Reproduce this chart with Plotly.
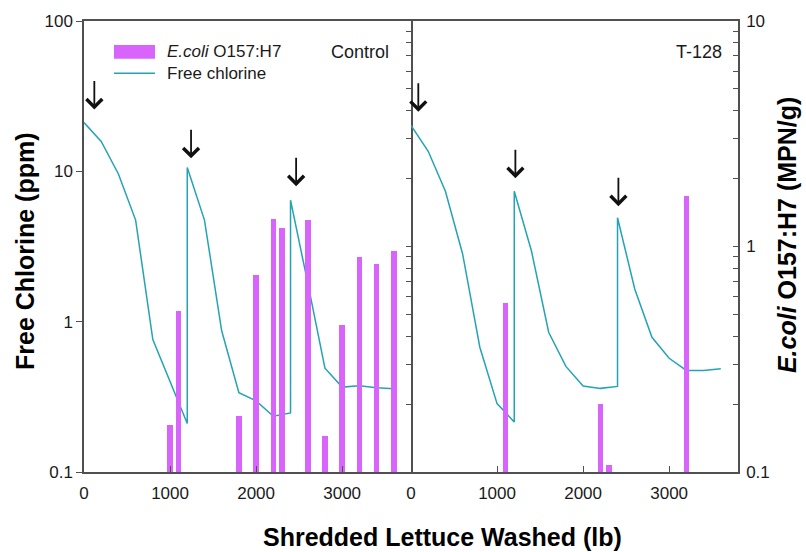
import math
import plotly.graph_objects as go

# ---------------- data ----------------
lb_steps = [0, 200, 400, 600, 800, 1000, 1200, 1200, 1400, 1600, 1800,
            2000, 2200, 2400, 2400, 2600, 2800, 3000, 3200, 3400, 3600]
chlorine_control = [21.1, 15.8, 9.6, 4.74, 0.76, 0.40, 0.21, 10.6, 4.74, 0.87, 0.337,
                    0.297, 0.235, 0.247, 6.43, 1.81, 0.49, 0.367, 0.375, 0.364, 0.358]
chlorine_t128 = [20.2, 13.6, 7.37, 2.82, 0.676, 0.285, 0.215, 7.37, 2.95, 0.85, 0.504,
                 0.373, 0.36, 0.371, 4.91, 1.65, 0.787, 0.571, 0.474, 0.474, 0.487]

ecoli_control_x = [1000, 1100, 1800, 2000, 2200, 2300, 2600, 2800, 3000, 3200, 3400, 3600]
ecoli_control = [0.161, 0.52, 0.177, 0.75, 1.33, 1.21, 1.31, 0.144, 0.45, 0.90, 0.84, 0.96]
ecoli_t128_x = [1100, 2200, 2300, 3200]
ecoli_t128 = [0.56, 0.201, 0.107, 1.67]

# chlorine dosing events (arrows): lb position and ppm level of the arrow tip
dose_control_x = [120, 1244, 2465]
dose_control_tip = [25.8, 12.2, 7.96]
dose_t128_x = [85, 1213, 2410]
dose_t128_tip = [24.9, 9.0, 5.86]

x_ticks = [0, 1000, 2000, 3000]
x_ticklabels = ["0", "1000", "2000", "3000"]
cl_ticks = [0.1, 1, 10, 100]
cl_ticklabels = ["0.1", "1", "10", "100"]
ec_ticks = [0.1, 0.2, 0.3, 0.4, 0.5, 0.6, 0.7, 0.8, 0.9,
            1, 2, 3, 4, 5, 6, 7, 8, 9, 10]
ec_ticklabels = ["0.1", "", "", "", "", "", "", "", "",
                 "1", "", "", "", "", "", "", "", "", "10"]

panel_labels = ["Control", "T-128"]
legend_labels = ["<i>E.coli</i> O157:H7", "Free chlorine"]

# ---------------- style ----------------
BAR_COLOR = "#D864FC"
LINE_COLOR = "#25A3B6"
AXIS_COLOR = "#505050"
TEXT_COLOR = "#1a1a1a"
FONT = "Liberation Sans, Arial, sans-serif"

L, R, T, B = 84, 738, 19, 472
W, H = R - L, B - T


def px_x(px):
    return (px - L) / W


def px_y(py):
    return (B - py) / H


fig = go.Figure()

# left panel
fig.add_trace(go.Bar(x=ecoli_control_x, y=ecoli_control, width=65,
                     marker=dict(color=BAR_COLOR, line=dict(width=0)),
                     xaxis="x", yaxis="y3", showlegend=False))
fig.add_trace(go.Scatter(x=lb_steps, y=chlorine_control, mode="lines",
                         line=dict(color=LINE_COLOR, width=1.5),
                         xaxis="x", yaxis="y", showlegend=False))
# right panel
fig.add_trace(go.Bar(x=ecoli_t128_x, y=ecoli_t128, width=65,
                     marker=dict(color=BAR_COLOR, line=dict(width=0)),
                     xaxis="x2", yaxis="y5", showlegend=False))
fig.add_trace(go.Scatter(x=lb_steps, y=chlorine_t128, mode="lines",
                         line=dict(color=LINE_COLOR, width=1.5),
                         xaxis="x2", yaxis="y4", showlegend=False))

tickfont = dict(family=FONT, size=17, color=TEXT_COLOR)

xcommon = dict(range=[0, 3800], tickvals=x_ticks, ticktext=x_ticklabels,
               ticks="inside", ticklen=6, tickwidth=1.2, tickcolor=AXIS_COLOR,
               ticklabelstandoff=5,
               showline=True, linecolor=AXIS_COLOR, linewidth=1.5, mirror=True,
               showgrid=False, zeroline=False, tickfont=tickfont)

fig.update_layout(
    width=806, height=552,
    margin=dict(l=L, r=806 - R, t=T, b=552 - B, pad=0),
    paper_bgcolor="white", plot_bgcolor="white",
    bargap=0, barmode="overlay",
    font=dict(family=FONT, color=TEXT_COLOR),
    xaxis=dict(domain=[0, 0.5], anchor="y", **xcommon),
    xaxis2=dict(domain=[0.5, 1], anchor="y4", **xcommon),
    yaxis=dict(type="log", range=[-1, 2], anchor="x",
               tickvals=cl_ticks, ticktext=cl_ticklabels,
               ticks="outside", ticklen=6, tickwidth=1.2, tickcolor=AXIS_COLOR,
               showline=True, linecolor=AXIS_COLOR, linewidth=1.5,
               showgrid=False, zeroline=False, tickfont=tickfont),
    yaxis3=dict(type="log", range=[-1, 1], anchor="x", overlaying="y", side="right",
                tickvals=ec_ticks, showticklabels=False,
                ticks="inside", ticklen=5, tickwidth=1.2, tickcolor=AXIS_COLOR,
                showline=True, linecolor=AXIS_COLOR, linewidth=1.5,
                showgrid=False, zeroline=False),
    yaxis4=dict(type="log", range=[-1, 2], anchor="x2",
                ticks="", showticklabels=False, showline=False,
                showgrid=False, zeroline=False),
    yaxis5=dict(type="log", range=[-1, 1], anchor="x2", overlaying="y4", side="right",
                tickvals=ec_ticks, ticktext=ec_ticklabels,
                ticks="inside", ticklen=5, tickwidth=1.2, tickcolor=AXIS_COLOR,
                ticklabelstandoff=3,
                showline=True, linecolor=AXIS_COLOR, linewidth=1.5,
                showgrid=False, zeroline=False, tickfont=tickfont),
)

annotations = []
# dosing arrows
for xs, tips, xr, yr in [(dose_control_x, dose_control_tip, "x", "y"),
                         (dose_t128_x, dose_t128_tip, "x2", "y4")]:
    for xv, tv in zip(xs, tips):
        annotations.append(dict(x=xv, y=math.log10(tv), xref=xr, yref=yr,
                                showarrow=True, ax=0, ay=-30,
                                arrowhead=4, arrowsize=1.7, arrowwidth=1.8,
                                arrowcolor="#111111", text=""))

titlefont = dict(family=FONT, size=25, color="#000000")
annotations += [
    dict(text="<b>Shredded Lettuce Washed (lb)</b>", x=px_x(442), y=px_y(537),
         xref="paper", yref="paper", showarrow=False, font=titlefont,
         xanchor="center", yanchor="middle"),
    dict(text="<b>Free Chlorine (ppm)</b>", x=px_x(25), y=px_y(250),
         xref="paper", yref="paper", showarrow=False, font=titlefont,
         textangle=-90, xanchor="center", yanchor="middle"),
    dict(text="<b><i>E.coli</i> O157:H7 (MPN/g)</b>", x=px_x(787), y=px_y(234),
         xref="paper", yref="paper", showarrow=False, font=titlefont,
         textangle=-90, xanchor="center", yanchor="middle"),
    dict(text=panel_labels[0], x=px_x(391), y=px_y(50), xref="paper", yref="paper",
         showarrow=False, font=dict(family=FONT, size=18, color=TEXT_COLOR),
         xanchor="right", yanchor="middle"),
    dict(text=panel_labels[1], x=px_x(724), y=px_y(50), xref="paper", yref="paper",
         showarrow=False, font=dict(family=FONT, size=18, color=TEXT_COLOR),
         xanchor="right", yanchor="middle"),
    dict(text=legend_labels[0], x=px_x(165), y=px_y(50), xref="paper", yref="paper",
         showarrow=False, font=dict(family=FONT, size=17, color=TEXT_COLOR),
         xanchor="left", yanchor="middle"),
    dict(text=legend_labels[1], x=px_x(165), y=px_y(72), xref="paper", yref="paper",
         showarrow=False, font=dict(family=FONT, size=17, color=TEXT_COLOR),
         xanchor="left", yanchor="middle"),
]
fig.update_layout(annotations=annotations)

fig.update_layout(shapes=[
    dict(type="rect", xref="paper", yref="paper",
         x0=px_x(114), x1=px_x(155), y0=px_y(57), y1=px_y(43),
         fillcolor=BAR_COLOR, line=dict(width=0)),
    dict(type="line", xref="paper", yref="paper",
         x0=px_x(114), x1=px_x(155), y0=px_y(71.5), y1=px_y(71.5),
         line=dict(color=LINE_COLOR, width=1.5)),
])

fig.write_html("out.html")
